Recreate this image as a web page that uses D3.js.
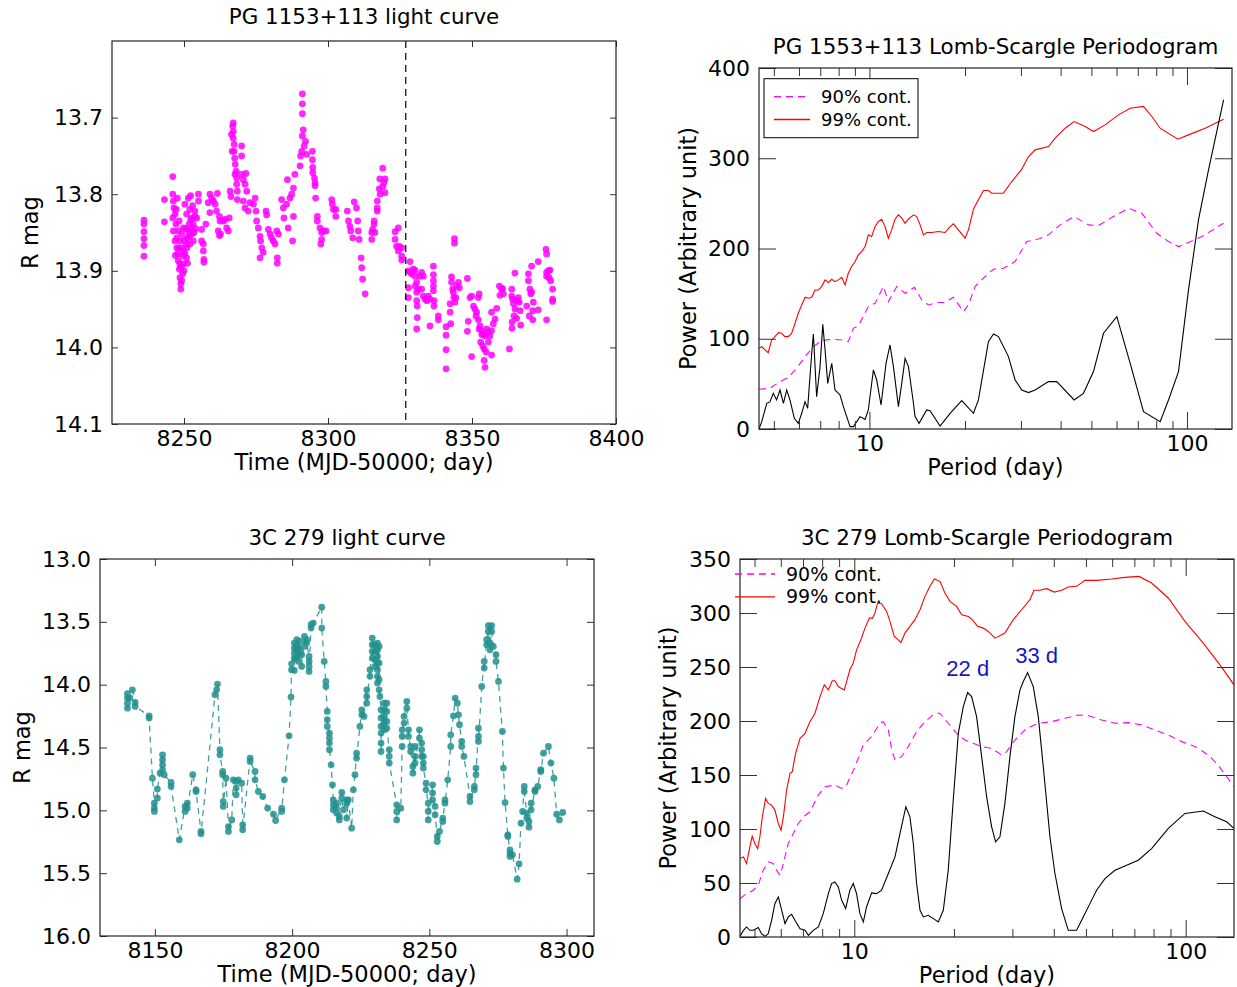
<!DOCTYPE html>
<html lang="en">
<head>
<meta charset="UTF-8">
<title>PG 1553+113 and 3C 279 light curves and periodograms</title>
<script src="https://d3js.org/d3.v7.min.js"></script>
<style>
  body { margin: 0; background: #fff; }
  svg { display: block; font-family: "DejaVu Sans", sans-serif; }
  .axis text { font-size: 22px; fill: #000; }
  .axis path { display: none; }
  .axis line { stroke: #333; stroke-width: 1; }
  .title { font-size: 21.4px; fill: #000; }
  .label { font-size: 22.5px; fill: #000; }
  .legend text { font-size: 18px; fill: #000; }
  .note { font-family: "Liberation Sans", Arial, sans-serif; font-size: 22px; fill: #1515cc; }
</style>
</head>
<body>
<svg id="chart" width="1237" height="987"></svg>
<script>
// ---- PG 1553+113 light curve: [MJD-50000, R mag]
const pgLight = [
  [8236.1,13.834],[8236.1,13.839],[8236.1,13.849],[8236.1,13.858],[8236.1,13.867],[8236.1,13.881],
  [8243.2,13.807],[8243.2,13.836],
  [8246.1,13.777],[8246.1,13.800],[8246.3,13.809],[8246.5,13.818],[8246.9,13.826],[8246.1,13.831],[8247.2,13.839],
  [8246.3,13.848],[8247.5,13.857],[8246.9,13.861],[8247.7,13.805],
  [8247.5,13.870],[8247.8,13.878],[8248.0,13.887],[8248.4,13.898],[8248.6,13.909],[8248.9,13.917],[8248.9,13.924],
  [8249.2,13.913],[8248.6,13.891],[8249.5,13.904],[8249.8,13.891],[8250.3,13.878],[8250.7,13.865],[8251.2,13.857],
  [8251.5,13.848],[8251.8,13.839],[8252.3,13.833],[8252.8,13.831],[8253.2,13.839],[8253.8,13.829],[8254.4,13.831],
  [8249.8,13.874],[8250.9,13.883],[8252.1,13.865],[8252.7,13.852],[8253.2,13.861],[8250.3,13.813],[8251.5,13.805],
  [8252.3,13.802],[8250.9,13.826],[8253.8,13.822],[8248.6,13.861],[8248.0,13.848],[8249.2,13.852],[8249.8,13.844],
  [8248.2,13.870],[8249.0,13.895],[8249.5,13.880],[8250.0,13.860],[8250.6,13.845],[8251.0,13.870],[8251.8,13.855],
  [8252.5,13.845],[8253.5,13.850],[8247.0,13.880],[8247.3,13.820],[8248.3,13.835],[8249.0,13.870],[8250.0,13.900],
  [8251.2,13.890],[8252.0,13.820],[8253.0,13.815],[8254.0,13.845],
  [8255.0,13.800],[8255.0,13.809],
  [8256.1,13.846],[8256.1,13.861],[8256.7,13.865],[8256.7,13.874],[8256.9,13.885],[8256.9,13.889],[8257.6,13.839],
  [8259.0,13.800],[8259.6,13.805],[8260.2,13.809],[8260.8,13.813],[8259.0,13.824],[8261.3,13.822],[8261.6,13.799],[8258.4,13.811],
  [8262.3,13.829],[8262.5,13.835],[8262.7,13.852],[8263.7,13.835],[8264.2,13.833],[8264.8,13.844],[8265.4,13.848],
  [8265.7,13.831],[8261.9,13.848],[8262.3,13.854],
  [8266.0,13.796],[8266.3,13.803],
  [8267.1,13.707],[8266.9,13.711],[8267.1,13.718],[8267.1,13.727],[8267.4,13.735],[8267.4,13.744],[8267.6,13.753],
  [8267.8,13.761],[8268.1,13.770],[8268.3,13.779],[8268.3,13.787],[8268.5,13.796],[8268.5,13.807],[8266.5,13.722],
  [8266.7,13.744],[8267.7,13.774],
  [8270.0,13.737],[8270.0,13.750],
  [8270.0,13.774],[8270.6,13.781],[8271.5,13.773],[8271.2,13.787],[8271.8,13.796],
  [8270.6,13.809],[8271.2,13.818],[8272.3,13.822],[8272.9,13.811],[8274.1,13.813],[8274.7,13.805],[8275.0,13.822],
  [8275.2,13.835],[8275.8,13.844],[8276.4,13.855],[8276.6,13.861],[8277.0,13.870],[8277.5,13.876],[8276.4,13.883],
  [8278.5,13.822],[8278.7,13.827],
  [8279.3,13.846],[8279.9,13.852],[8280.4,13.857],[8281.0,13.861],[8281.6,13.865],[8282.2,13.848],[8282.8,13.852],
  [8282.4,13.883],[8282.4,13.890],
  [8283.9,13.807],[8284.5,13.818],[8284.7,13.831],[8285.6,13.813],[8285.9,13.781],[8286.2,13.844],[8286.8,13.805],
  [8287.4,13.800],[8288.0,13.792],[8288.0,13.829],[8288.5,13.774],[8287.7,13.861],
  [8290.3,13.763],[8290.5,13.750],[8290.9,13.744],[8291.1,13.724],[8291.4,13.716],[8291.1,13.695],[8291.1,13.682],
  [8291.1,13.669],[8291.7,13.737],[8292.2,13.731],[8292.6,13.748],
  [8294.6,13.744],[8294.6,13.755],[8294.7,13.765],[8294.7,13.772],[8295.3,13.779],[8295.5,13.785],[8295.5,13.789],[8295.7,13.805],
  [8296.3,13.829],[8296.3,13.835],[8297.2,13.844],[8297.8,13.850],[8298.4,13.848],[8297.8,13.859],[8297.5,13.865],[8299.3,13.848],
  [8301.3,13.807],[8301.5,13.813],[8301.9,13.820],[8302.7,13.820],[8302.7,13.829],
  [8306.7,13.822],[8307.1,13.835],[8307.6,13.842],[8307.9,13.848],[8308.6,13.857],[8309.1,13.810],[8309.9,13.818],
  [8310.3,13.835],[8310.8,13.859],[8310.5,13.848],
  [8311.5,13.883],[8311.7,13.896],[8312.0,13.911],[8312.9,13.930],
  [8315.2,13.850],[8315.2,13.859],[8316.0,13.839],[8316.0,13.835],[8315.5,13.846],[8316.3,13.850],
  [8317.1,13.809],[8317.1,13.818],[8317.1,13.822],[8317.8,13.793],[8318.0,13.780],[8319.0,13.766],[8319.4,13.785],
  [8319.8,13.780],[8319.8,13.798],[8319.0,13.790],[8318.1,13.800],
  [8323.3,13.849],[8323.3,13.859],[8324.4,13.844],[8323.8,13.868],[8324.4,13.874],[8324.8,13.868],[8325.6,13.870],
  [8325.6,13.881],[8325.6,13.886],
  [8328.5,13.888],[8327.9,13.900],[8328.5,13.902],[8329.0,13.904],[8329.6,13.898],[8330.2,13.899],[8330.2,13.907],
  [8330.8,13.915],[8331.9,13.907],[8332.5,13.902],[8333.1,13.907],[8327.9,13.922],[8327.9,13.935],[8330.2,13.920],
  [8330.8,13.928],[8331.4,13.924],[8332.5,13.924],[8333.1,13.933],[8330.8,13.939],[8331.0,13.946],[8331.0,13.961],
  [8330.8,13.976],[8334.8,13.933],[8335.4,13.937],[8333.7,13.937],[8334.3,13.939],
  [8336.6,13.894],[8336.6,13.905],[8336.6,13.913],[8336.6,13.920],[8336.6,13.926],[8336.8,13.939],[8336.8,13.946],
  [8338.3,13.959],[8338.3,13.964],[8335.4,13.972],
  [8341.0,13.973],[8341.0,13.984],[8341.0,14.003],[8341.0,14.028],[8342.4,13.943],[8342.4,13.954],[8342.6,13.969],
  [8342.9,13.908],[8342.9,13.915],[8343.3,13.924],[8343.5,13.928],[8343.7,13.935],[8344.1,13.941],[8344.7,13.920],
  [8345.3,13.915],[8345.6,13.922],[8344.4,13.935],[8343.9,13.858],[8343.9,13.864],
  [8348.4,13.910],
  [8349.3,13.935],[8349.9,13.933],[8350.5,13.946],[8351.0,13.950],[8351.6,13.954],[8352.2,13.935],[8352.5,13.930],
  [8351.4,13.959],[8352.2,13.964],[8352.8,13.972],[8353.4,13.978],[8353.9,13.983],[8354.5,13.985],[8355.1,13.976],
  [8355.7,13.980],[8356.2,13.985],[8356.8,13.978],[8357.4,13.969],[8356.8,13.954],[8358.0,13.963],[8358.6,13.949],
  [8348.7,13.966],[8348.4,13.979],[8349.9,14.012],[8353.0,13.993],[8353.7,13.998],[8354.2,14.002],[8354.9,14.006],
  [8354.2,14.017],[8354.5,14.026],[8356.8,14.010],[8355.7,13.993],[8352.5,13.976],[8353.4,13.983],
  [8359.5,13.920],[8359.7,13.932],[8360.3,13.924],[8360.9,13.930],[8360.6,13.923],
  [8363.0,14.002],
  [8363.8,13.924],[8363.8,13.933],[8364.1,13.937],[8364.4,13.943],[8364.9,13.950],[8364.9,13.903],[8365.5,13.939],
  [8366.1,13.935],[8366.4,13.941],[8366.7,13.952],[8366.9,13.971],[8365.5,13.962],[8363.9,13.967],[8363.9,13.975],[8364.6,13.959],
  [8369.0,13.946],[8369.6,13.913],[8369.6,13.904],[8370.1,13.924],[8370.4,13.930],[8370.7,13.928],[8371.1,13.952],
  [8371.1,13.964],[8370.7,13.894],[8371.3,13.941],[8369.9,13.959],
  [8373.0,13.888],[8373.0,13.951],
  [8375.7,13.872],[8375.9,13.878],[8375.9,13.902],[8376.5,13.900],[8377.1,13.899],[8376.8,13.909],[8377.3,13.913],
  [8378.0,13.924],[8378.0,13.937],[8378.0,13.940],[8375.9,13.964],[8375.9,13.907]
];
const pgMarkTime = 8327;   // dashed vertical line

// ---- PG 1553+113 periodogram: [period (day), power]
const pgPower = [
  [4.49,0],[4.58,8.1],[4.75,28.5],[4.86,30],[4.98,39.5],[5.10,32.2],[5.23,43.2],[5.36,28.5],[5.49,43.2],[5.62,32.2],
  [5.80,11.8],[5.97,6.3],[6.12,17.4],[6.27,30.3],[6.39,22.9],[6.58,83.9],[6.66,105.3],[6.82,35.8],[6.99,69.1],
  [7.13,116.0],[7.25,87.6],[7.39,50.6],[7.61,72.8],[7.79,43.2],[8.08,37.7],[8.28,24.8],[8.69,2.6],[8.90,2.6],
  [9.34,13.7],[9.69,10.7],[9.92,21.1],[10.29,65.4],[10.54,54.3],[10.88,26.6],[11.28,72.8],[11.61,93.1],[11.90,69.1],
  [12.34,24.8],[12.64,50.6],[12.95,78.3],[13.27,69.1],[13.76,28.5],[13.92,13.7],[14.33,6.3],[15.15,21.1],[15.52,20.3],
  [16.69,3.3],[17.95,17.4],[19.53,31.4],[21.26,17.4],[22.04,32.2],[23.70,96.8],[24.58,105.3],[25.49,102.4],[27.40,80.2],
  [28.76,54.3],[30.18,43.2],[31.68,40.3],[33.25,43.2],[36.63,52.5],[38.90,52.5],[44.12,32.2],[47.21,39.5],[50.76,63.6],
  [54.59,106.1],[60.12,124.5],[66.25,72.8],[72.96,19.2],[82.33,8.1],[87.46,32.2],[94.04,63.6],[101.1,154.1],
  [108.7,231.7],[116.9,287.1],[130.4,364.7]
];
const pgCont90 = [
  [4.49,44.0],[4.86,45.1],[5.17,51.4],[5.55,57.3],[5.90,67.3],[6.27,80.2],[6.66,91.3],[7.07,97.9],[7.61,99.4],
  [8.18,98.7],[8.58,96.8],[8.90,111.6],[9.23,114.2],[9.92,135.6],[10.42,139.3],[11.06,157.8],[11.47,141.2],
  [12.19,157.8],[12.95,150.4],[13.86,157.1],[14.61,143.0],[15.34,137.5],[16.29,140.1],[17.31,140.1],[18.39,146.0],
  [19.77,130.1],[20.50,137.5],[21.51,157.8],[23.70,172.6],[24.58,177.0],[26.42,178.1],[28.76,185.5],[31.30,207.7],
  [34.07,210.6],[36.63,215.1],[39.85,226.2],[44.12,235.4],[48.96,226.2],[52.63,225.4],[58.70,235.4],[65.45,244.6],
  [72.08,239.1],[80.37,216.9],[87.46,207.7],[94.04,202.1],[101.1,206.6],[111.4,213.2],[130.4,228.0]
];
const pgCont99 = [
  [4.49,89.4],[4.58,91.3],[4.69,87.6],[4.80,84.6],[4.92,98.7],[5.04,102.4],[5.17,106.8],[5.29,106.1],[5.42,102.4],
  [5.55,102.4],[5.69,106.1],[5.83,117.1],[5.97,128.2],[6.12,137.5],[6.27,146.0],[6.42,144.9],[6.58,146.0],[6.74,154.1],
  [6.91,154.1],[7.07,157.8],[7.25,165.2],[7.42,162.2],[7.61,165.9],[7.79,163.3],[7.98,165.2],[8.18,168.1],[8.38,159.6],
  [8.58,172.6],[8.79,180.0],[9.01,185.5],[9.23,192.9],[9.45,196.6],[9.69,202.1],[9.92,215.1],[10.16,213.2],
  [10.42,224.3],[10.67,229.9],[10.93,232.4],[11.20,224.3],[11.47,211.4],[11.75,220.6],[12.04,232.4],[12.34,237.3],
  [12.64,233.6],[12.95,228.0],[13.27,232.4],[13.76,237.3],[14.09,235.4],[14.44,226.2],[14.79,215.1],[15.15,217.7],
  [15.71,217.7],[16.49,218.8],[17.31,217.7],[17.95,224.3],[18.39,227.3],[19.06,220.6],[20.01,211.4],[20.50,220.6],
  [21.26,243.5],[22.04,253.9],[22.86,264.2],[23.70,264.2],[24.28,261.3],[26.42,261.3],[28.07,274.2],[30.18,287.9],
  [31.68,301.9],[33.25,309.3],[36.63,313.0],[38.45,322.2],[41.33,333.3],[44.12,340.7],[47.79,335.2],[50.76,329.6],
  [55.25,337.0],[60.85,348.1],[66.25,355.5],[72.96,357.4],[77.51,346.3],[82.33,333.3],[93.61,321.1],[101.1,325.9],
  [114.1,333.3],[130.4,343.3]
];

// ---- 3C 279 light curve: [MJD-50000, R mag]
const c3Light = [
  [8140.0,14.072],[8140.0,14.107],[8140.0,14.147],[8140.0,14.187],[8140.9,14.107],[8141.8,14.041],[8142.8,14.141],[8142.8,14.173],
  [8147.9,14.248],[8147.9,14.266],[8149.1,14.744],[8149.8,14.943],[8149.8,14.983],[8149.8,15.009],
  [8150.9,14.903],[8150.9,14.831],[8151.9,14.704],[8152.8,14.558],[8152.8,14.598],[8152.8,14.638],[8152.8,14.678],[8153.4,14.717],
  [8155.9,14.778],[8155.9,14.810],[8158.9,15.235],[8161.0,14.969],[8161.0,15.009],[8161.8,14.943],[8161.8,14.983],
  [8163.8,14.717],[8165.0,14.837],[8165.0,14.850],[8166.8,15.168],[8166.8,15.187],
  [8171.9,14.080],[8172.5,14.041],[8172.8,13.995],[8173.7,14.518],[8173.7,14.558],[8174.7,14.691],[8174.7,14.717],
  [8174.9,14.930],[8174.9,14.969],[8175.9,14.744],[8176.8,15.129],[8176.8,15.168],[8178.0,15.076],[8178.6,14.757],
  [8179.6,14.770],[8179.6,14.823],[8179.6,14.876],[8180.4,14.757],[8181.6,14.784],[8182.0,15.115],[8182.0,15.155],
  [8184.7,14.585],[8184.7,14.611],[8186.5,14.691],[8186.5,14.757],[8187.7,14.850],[8189.3,14.890],[8191.1,14.983],
  [8193.2,15.031],[8194.0,15.081],[8196.2,14.983],[8196.2,15.009],[8197.2,14.757],
  [8198.9,14.407],[8199.6,14.099],[8199.8,13.834],[8199.8,13.881],
  [8200.8,13.669],[8200.8,13.709],[8200.8,13.749],[8200.8,13.789],[8200.8,13.887],
  [8201.7,13.642],[8201.7,13.682],[8201.7,13.735],[8201.7,13.789],[8202.3,13.709],[8202.3,13.762],[8202.3,13.815],
  [8202.9,13.655],[8202.9,13.722],[8203.5,13.762],[8203.5,13.855],[8204.5,13.616],[8204.5,13.696],[8205.3,13.642],[8205.3,13.669],
  [8206.2,13.775],[8206.2,13.815],[8206.2,13.855],[8206.2,13.895],[8206.9,13.523],[8206.9,13.550],[8207.7,13.510],
  [8210.8,13.383],[8210.8,13.550],
  [8211.7,13.815],[8212.3,13.974],[8212.3,14.014],[8212.8,14.213],[8212.8,14.279],[8212.8,14.332],
  [8213.6,14.386],[8213.6,14.425],[8213.6,14.465],[8213.6,14.518],[8214.2,14.638],[8214.7,14.797],
  [8215.0,14.917],[8215.0,14.956],[8215.0,14.996],[8216.2,14.943],[8216.2,14.983],[8216.2,15.022],[8217.2,15.049],[8217.2,15.076],
  [8218.1,14.858],[8218.1,14.903],[8218.7,14.996],[8219.9,14.917],[8219.9,14.943],[8219.9,15.062],[8220.5,14.917],
  [8221.7,15.142],[8222.3,14.837],[8222.9,14.717],
  [8223.5,14.545],[8223.5,14.585],[8224.7,14.332],[8225.4,14.200],[8225.4,14.240],[8226.2,14.253],
  [8227.2,14.041],[8227.2,14.094],[8227.2,14.147],[8228.4,13.881],[8228.4,13.934],
  [8229.2,13.629],[8229.2,13.682],[8229.2,13.735],[8229.2,13.789],[8230.2,13.682],[8230.2,13.735],[8230.2,13.802],[8230.2,13.855],
  [8231.1,13.669],[8231.1,13.722],[8231.1,13.775],[8231.1,13.828],[8231.1,13.881],[8231.1,13.934],[8231.1,13.987],
  [8231.7,13.696],[8231.7,13.828],[8231.7,13.961],[8231.7,14.041],[8232.0,14.094],
  [8232.4,14.200],[8232.4,14.266],[8232.4,14.332],[8232.4,14.385],[8232.4,14.465],[8232.4,14.532],
  [8233.5,14.147],[8233.5,14.200],[8233.5,14.253],[8233.5,14.306],[8233.5,14.359],
  [8234.5,14.147],[8234.5,14.213],[8234.5,14.293],[8234.5,14.346],[8235.4,14.518],[8235.4,14.571],[8235.4,14.624],
  [8238.1,14.956],[8238.1,15.009],[8238.1,15.076],[8239.6,14.983],
  [8240.1,14.492],[8240.1,14.412],[8240.1,14.359],[8240.8,14.306],[8240.8,14.253],[8241.8,14.134],[8241.8,14.187],
  [8242.4,14.359],[8242.4,14.412],[8243.2,14.492],[8243.2,14.532],[8244.0,14.651],[8244.0,14.704],
  [8244.8,14.492],[8244.8,14.571],[8244.8,14.624],[8246.4,14.359],[8246.4,14.425],
  [8247.2,14.465],[8247.2,14.518],[8247.2,14.571],[8247.8,14.571],[8247.8,14.624],[8247.8,14.664],
  [8248.8,14.784],[8248.8,14.837],[8249.6,14.943],[8249.6,15.009],[8249.6,15.076],
  [8251.2,14.797],[8251.2,14.863],[8251.2,14.917],[8252.1,14.969],[8252.1,15.036],
  [8252.9,15.208],[8252.9,15.248],[8253.7,15.168],[8254.9,15.062],[8254.9,15.089],
  [8255.7,14.917],[8255.7,14.943],[8256.7,14.757],[8257.8,14.492],[8257.8,14.399],[8258.8,14.248],
  [8259.4,14.107],[8260.2,14.147],[8260.6,14.240],[8261.0,14.319],[8261.8,14.452],[8261.8,14.492],[8262.6,14.571],
  [8264.8,14.890],[8264.8,14.930],[8266.4,14.810],[8266.4,14.837],[8267.0,14.664],[8267.0,14.717],
  [8267.9,14.346],[8267.9,14.412],[8267.9,14.452],[8269.1,14.014],[8270.0,13.815],[8270.0,13.868],
  [8270.9,13.642],[8270.9,13.682],[8271.5,13.531],[8271.5,13.576],[8272.1,13.669],[8272.1,13.722],[8272.7,13.531],
  [8272.7,13.576],[8273.3,13.696],[8274.3,13.762],[8274.3,13.815],[8275.2,13.974],[8276.6,14.372],[8277.0,14.664],[8277.6,14.938],
  [8278.6,15.195],[8278.6,15.208],[8279.4,15.314],[8279.4,15.341],[8279.4,15.367],[8280.3,15.354],
  [8282.0,15.548],[8282.7,15.426],[8283.4,15.102],[8284.0,15.009],[8284.6,14.810],[8284.6,14.850],
  [8285.5,15.022],[8285.5,15.062],[8286.3,15.089],[8286.3,15.134],[8287.1,14.943],[8287.1,14.996],
  [8288.5,14.837],[8288.5,14.850],[8289.5,14.810],[8290.6,14.677],[8290.6,14.691],[8291.6,14.545],
  [8293.4,14.492],[8294.3,14.624],[8295.4,14.744],[8296.4,15.031],[8297.4,15.076],[8298.6,15.017]
];

// ---- 3C 279 periodogram: [period (day), power]
const c3Power = [
  [4.52,0.6],[4.63,6.2],[4.73,9.3],[4.84,6.2],[4.96,6.2],[5.13,8.7],[5.25,3.1],[5.38,0.6],[5.50,3.1],[5.63,15.5],
  [5.76,30.9],[5.90,37.1],[6.04,24.7],[6.18,12.4],[6.32,18.6],[6.47,21.0],[6.62,15.5],[6.86,7.7],[7.10,6.2],[7.27,1.5],
  [7.52,6.2],[7.79,9.3],[8.06,21.6],[8.35,40.2],[8.54,49.5],[8.74,51.0],[8.95,46.4],[9.16,34.0],[9.42,26.3],[9.70,43.3],
  [9.93,49.5],[10.16,40.2],[10.40,21.6],[10.65,13.9],[10.89,27.8],[11.28,40.8],[11.68,40.2],[12.09,43.3],[12.67,58.8],
  [13.27,74.2],[13.74,95.9],[14.31,120.6],[14.72,111.3],[15.07,86.6],[15.42,49.5],[15.79,24.7],[16.16,18.6],[16.72,20.1],
  [17.32,17.0],[17.93,13.9],[18.56,24.7],[19.21,61.8],[19.89,126.8],[20.60,188.6],[21.33,213.4],[21.98,226.3],[22.60,222.6],
  [23.39,204.1],[24.23,167.0],[25.08,129.9],[25.97,102.0],[26.70,88.1],[27.51,92.8],[28.48,123.7],[29.49,167.0],[30.53,204.1],
  [31.62,228.8],[32.36,236.5],[33.34,244.9],[34.68,231.9],[35.91,204.1],[37.18,157.7],[38.94,92.8],[40.32,58.8],[42.23,26.3],
  [44.23,6.2],[46.87,6.2],[49.09,18.6],[51.41,30.9],[53.85,43.3],[57.07,54.1],[61.18,61.8],[66.33,66.5],[71.95,71.1],
  [78.92,81.9],[88.63,100.5],[99.49,114.4],[113.0,116.6],[122.5,111.3],[132.9,106.7],[139.9,100.5]
];
const c3Cont90 = [
  [4.52,35.6],[4.73,40.2],[4.96,43.3],[5.13,47.9],[5.31,61.8],[5.50,69.6],[5.69,68.0],[5.87,60.3],[5.97,57.2],[6.11,68.0],
  [6.32,86.6],[6.55,95.9],[6.78,105.1],[7.02,111.3],[7.35,116.0],[7.79,131.4],[8.16,139.1],[8.74,140.7],[9.16,137.6],
  [9.48,140.7],[10.05,157.7],[10.65,177.8],[11.28,185.5],[11.95,197.9],[12.23,199.4],[12.67,191.7],[12.97,173.2],
  [13.27,163.9],[13.90,167.0],[14.55,176.3],[15.42,190.2],[16.34,199.4],[17.52,207.2],[18.13,207.2],[19.21,197.9],
  [20.36,188.6],[21.58,182.4],[22.86,179.3],[24.23,176.3],[25.97,174.7],[27.84,168.5],[28.83,171.6],[30.53,182.4],
  [33.11,193.3],[35.91,197.9],[39.40,199.4],[43.22,202.5],[47.41,205.6],[50.82,205.0],[55.76,201.0],[61.18,197.9],
  [67.12,198.5],[73.62,196.4],[80.77,191.7],[88.63,187.1],[97.21,180.9],[106.7,176.3],[117.0,168.5],[125.4,159.2],[139.9,139.1]
];
const c3Cont99 = [
  [4.52,72.7],[4.63,74.2],[4.73,68.0],[4.84,83.5],[4.92,93.4],[5.01,86.6],[5.11,81.9],[5.19,92.8],[5.28,111.3],[5.40,128.3],
  [5.50,123.7],[5.63,122.1],[5.76,117.5],[5.90,105.1],[6.01,98.9],[6.11,111.3],[6.25,136.1],[6.40,151.5],[6.50,153.1],
  [6.65,170.1],[6.86,184.0],[7.10,188.6],[7.35,199.4],[7.61,207.2],[7.88,222.6],[8.12,233.5],[8.35,228.8],[8.58,237.2],
  [8.74,237.2],[8.95,231.9],[9.12,230.4],[9.33,228.8],[9.48,236.5],[9.70,247.4],[9.93,253.6],[10.16,265.9],[10.47,275.2],
  [10.77,286.0],[11.10,295.3],[11.36,295.3],[11.54,299.9],[11.76,309.2],[12.09,308.6],[12.52,301.5],[12.81,292.2],
  [13.20,278.3],[13.58,275.2],[13.83,272.7],[14.22,281.4],[14.72,287.6],[15.24,293.8],[15.79,303.0],[16.34,315.4],
  [16.92,324.7],[17.44,331.5],[18.13,329.3],[18.77,318.5],[19.44,310.8],[20.36,306.1],[21.09,298.4],[22.08,296.8],
  [22.70,293.8],[23.56,287.6],[24.51,286.0],[25.37,282.9],[26.58,276.7],[28.48,281.4],[30.18,293.8],[31.99,303.0],
  [33.89,312.3],[34.84,321.0],[36.33,321.0],[38.05,322.5],[40.13,319.4],[42.23,321.0],[44.23,324.1],[46.87,324.7],
  [49.66,330.2],[53.85,330.2],[59.78,331.5],[65.58,333.0],[72.28,333.9],[78.92,327.8],[88.63,313.9],[99.49,292.2],
  [113.0,272.1],[126.9,252.0],[139.9,233.5]
];
const c3Notes = [[22, 242, "22 d"], [35.5, 254, "33 d"]];

// ---- ticks
const pgTimeTicks = [8250, 8300, 8350, 8400];
const pgMagTicks = [13.7, 13.8, 13.9, 14.0, 14.1];
const c3TimeTicks = [8150, 8200, 8250, 8300];
const c3MagTicks = [13.0, 13.5, 14.0, 14.5, 15.0, 15.5, 16.0];
const periodTicks = [10, 100];
const periodMinor = [5, 6, 7, 8, 9, 20, 30, 40, 50, 60, 70, 80, 90];
const pgPowerTicks = [0, 100, 200, 300, 400];
const c3PowerTicks = [0, 50, 100, 150, 200, 250, 300, 350];
const legendItems = [
  {name: "90% cont.", color: "#ff00ff", dash: "7,5"},
  {name: "99% cont.", color: "#ff0000", dash: null}
];

const svg = d3.select("#chart");
svg.append("rect").attr("width", 1237).attr("height", 987).attr("fill", "#fff");
let clipId = 0;

function panel(o) {
  const g = svg.append("g");
  const id = "clip" + (++clipId);
  g.append("clipPath").attr("id", id).append("rect")
    .attr("x", o.x0).attr("y", o.y0).attr("width", o.x1 - o.x0).attr("height", o.y1 - o.y0);
  const plot = g.append("g").attr("clip-path", `url(#${id})`);
  return {g, plot};
}

function axes(g, o) {
  g.append("g").attr("class", "axis").attr("transform", `translate(0,${o.y1})`)
    .call(d3.axisBottom(o.x).tickValues(o.xTicks).tickFormat(o.xFmt).tickSizeInner(-o.major).tickSizeOuter(0).tickPadding(6));
  g.append("g").attr("class", "axis").attr("transform", `translate(0,${o.y0})`)
    .call(d3.axisTop(o.x).tickValues(o.xTicks).tickFormat("").tickSizeInner(-o.major).tickSizeOuter(0));
  g.append("g").attr("class", "axis").attr("transform", `translate(${o.x0},0)`)
    .call(d3.axisLeft(o.y).tickValues(o.yTicks).tickFormat(o.yFmt).tickSizeInner(-o.major).tickSizeOuter(0).tickPadding(9));
  g.append("g").attr("class", "axis").attr("transform", `translate(${o.x1},0)`)
    .call(d3.axisRight(o.y).tickValues(o.yTicks).tickFormat("").tickSizeInner(-o.major).tickSizeOuter(0));
  if (o.xMinor) {
    g.append("g").attr("class", "axis").attr("transform", `translate(0,${o.y1})`)
      .call(d3.axisBottom(o.x).tickValues(o.xMinor).tickFormat("").tickSizeInner(-o.minor).tickSizeOuter(0));
    g.append("g").attr("class", "axis").attr("transform", `translate(0,${o.y0})`)
      .call(d3.axisTop(o.x).tickValues(o.xMinor).tickFormat("").tickSizeInner(-o.minor).tickSizeOuter(0));
  }
  g.selectAll(".axis").attr("font-size", null).attr("font-family", null);

  g.append("rect").attr("x", o.x0).attr("y", o.y0)
    .attr("width", o.x1 - o.x0).attr("height", o.y1 - o.y0)
    .attr("fill", "none").attr("stroke", "#222").attr("stroke-width", 1.2);

  g.append("text").attr("class", "title").attr("text-anchor", "middle")
    .attr("x", (o.x0 + o.x1) / 2).attr("y", o.y0 - o.titleOff).text(o.title);
  g.append("text").attr("class", "label").attr("text-anchor", "middle")
    .attr("x", (o.x0 + o.x1) / 2).attr("y", o.y1 + 46).text(o.xLabel);
  g.append("text").attr("class", "label").attr("text-anchor", "middle")
    .attr("transform", `translate(${o.x0 - o.yLabelOff},${(o.y0 + o.y1) / 2}) rotate(-90)`)
    .text(o.yLabel);
}

function lightCurve(o, data, color, withLine) {
  const {g, plot} = panel(o);
  const pts = data.slice().sort((a, b) => a[0] - b[0]);
  if (withLine) {
    plot.append("path").datum(pts)
      .attr("d", d3.line().x(d => o.x(d[0])).y(d => o.y(d[1])))
      .attr("fill", "none").attr("stroke", color).attr("stroke-width", 1.3)
      .attr("stroke-dasharray", "6,5").attr("opacity", 0.85);
  }
  plot.selectAll("circle").data(pts).join("circle")
    .attr("cx", d => o.x(d[0])).attr("cy", d => o.y(d[1])).attr("r", 3.4)
    .attr("fill", color).attr("fill-opacity", 0.85);
  if (o.mark) {
    plot.append("line")
      .attr("x1", o.x(o.mark)).attr("x2", o.x(o.mark)).attr("y1", o.y0).attr("y2", o.y1)
      .attr("stroke", "#000").attr("stroke-width", 1.2).attr("stroke-dasharray", "7,5");
  }
  axes(g, o);
  return g;
}

function periodogram(o, power, c90, c99) {
  const {g, plot} = panel(o);
  const line = d3.line().x(d => o.x(d[0])).y(d => o.y(d[1]));
  plot.append("path").datum(c90).attr("d", line).attr("fill", "none")
    .attr("stroke", "#ff00ff").attr("stroke-width", 1.1).attr("stroke-dasharray", "7,5");
  plot.append("path").datum(c99).attr("d", line).attr("fill", "none")
    .attr("stroke", "#ff0000").attr("stroke-width", 1.1);
  plot.append("path").datum(power).attr("d", line).attr("fill", "none")
    .attr("stroke", "#000").attr("stroke-width", 1.1);
  axes(g, o);
  return g;
}

function legend(g, lx, ly, boxed, fontSize) {
  const lg = g.append("g").attr("class", "legend").attr("transform", `translate(${lx},${ly})`);
  if (boxed) {
    lg.append("rect").attr("x", -10).attr("y", -18).attr("width", 154).attr("height", 59)
      .attr("fill", "#fff").attr("stroke", "#000").attr("stroke-width", 1);
  }
  legendItems.forEach((it, i) => {
    const yy = i * 22.8;
    lg.append("line").attr("x1", 0).attr("x2", boxed ? 36 : 40).attr("y1", yy).attr("y2", yy)
      .style("stroke", it.color).style("stroke-width", 1.3)
      .style("stroke-dasharray", it.dash ? it.dash : "none");
    lg.append("text").attr("x", boxed ? 47 : 51).attr("y", yy + 6.5)
      .style("font-size", fontSize + "px").text(it.name);
  });
}

// ---- top-left: PG light curve
const tl = {x0: 112, x1: 616, y0: 41, y1: 424};
tl.x = d3.scaleLinear().domain([8225, 8400]).range([tl.x0, tl.x1]);
tl.y = d3.scaleLinear().domain([13.6, 14.1]).range([tl.y0, tl.y1]);
Object.assign(tl, {xTicks: pgTimeTicks, yTicks: pgMagTicks, xFmt: d3.format("d"), yFmt: d3.format(".1f"),
  major: 6, minor: 3, title: "PG 1153+113 light curve", titleOff: 17, xLabel: "Time (MJD-50000; day)",
  yLabel: "R mag", yLabelOff: 74, mark: pgMarkTime});
lightCurve(tl, pgLight, "#ff00ff", false);

// ---- top-right: PG periodogram
const tr = {x0: 759, x1: 1232, y0: 68, y1: 429};
tr.x = d3.scaleLog().domain([4.49, 138.6]).range([tr.x0, tr.x1]);
tr.y = d3.scaleLinear().domain([0, 400]).range([tr.y1, tr.y0]);
Object.assign(tr, {xTicks: periodTicks, xMinor: periodMinor, yTicks: pgPowerTicks, xFmt: d3.format("d"), yFmt: d3.format("d"),
  major: 17, minor: 8, title: "PG 1553+113 Lomb-Scargle Periodogram", titleOff: 14, xLabel: "Period (day)",
  yLabel: "Power (Arbitrary unit)", yLabelOff: 63});
const trG = periodogram(tr, pgPower, pgCont90, pgCont99);
legend(trG, tr.x0 + 15, tr.y0 + 28.7, true, 18);

// ---- bottom-left: 3C 279 light curve
const bl = {x0: 100, x1: 594, y0: 559, y1: 936};
bl.x = d3.scaleLinear().domain([8130, 8310]).range([bl.x0, bl.x1]);
bl.y = d3.scaleLinear().domain([13, 16]).range([bl.y0, bl.y1]);
Object.assign(bl, {xTicks: c3TimeTicks, yTicks: c3MagTicks, xFmt: d3.format("d"), yFmt: d3.format(".1f"),
  major: 7, minor: 3, title: "3C 279 light curve", titleOff: 14, xLabel: "Time (MJD-50000; day)",
  yLabel: "R mag", yLabelOff: 70});
lightCurve(bl, c3Light, "#21908d", true);

// ---- bottom-right: 3C 279 periodogram
const br = {x0: 740, x1: 1234, y0: 559, y1: 937};
br.x = d3.scaleLog().domain([4.52, 139.9]).range([br.x0, br.x1]);
br.y = d3.scaleLinear().domain([0, 350]).range([br.y1, br.y0]);
Object.assign(br, {xTicks: periodTicks, xMinor: periodMinor, yTicks: c3PowerTicks, xFmt: d3.format("d"), yFmt: d3.format("d"),
  major: 17, minor: 8, title: "3C 279 Lomb-Scargle Periodogram", titleOff: 14, xLabel: "Period (day)",
  yLabel: "Power (Arbitrary unit)", yLabelOff: 64});
const brG = periodogram(br, c3Power, c3Cont90, c3Cont99);
legend(brG, br.x0 - 5, br.y0 + 15, false, 19);
brG.selectAll("text.note").data(c3Notes).join("text").attr("class", "note")
  .attr("text-anchor", "middle")
  .attr("x", d => br.x(d[0])).attr("y", d => br.y(d[1])).text(d => d[2]);
</script>
</body>
</html>
